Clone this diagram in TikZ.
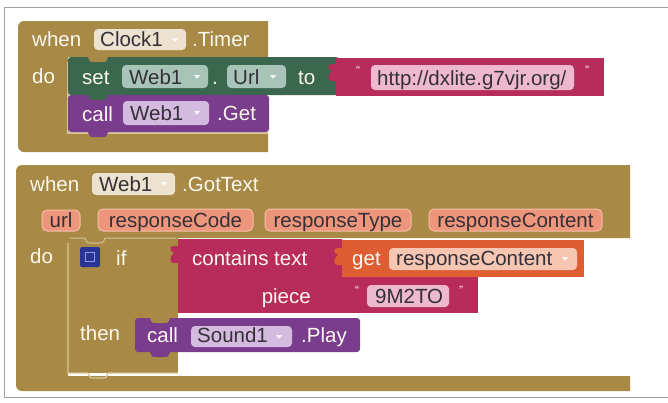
\documentclass[tikz,border=0pt]{standalone}
\usepackage{fontspec}
\setmainfont{Liberation Sans}

% block palette
\definecolor{ochre}{RGB}{168,138,70}
\definecolor{ochreedge}{RGB}{214,196,150}
\definecolor{beige}{RGB}{236,226,207}
\definecolor{setgreen}{RGB}{60,103,79}
\definecolor{greenfld}{RGB}{168,196,184}
\definecolor{textpink}{RGB}{184,44,92}
\definecolor{pinkfld}{RGB}{238,184,206}
\definecolor{callpurple}{RGB}{122,60,140}
\definecolor{purplefld}{RGB}{212,186,222}
\definecolor{getorange}{RGB}{222,94,50}
\definecolor{orangefld}{RGB}{246,198,178}
\definecolor{pill}{RGB}{238,150,124}
\definecolor{pilledge}{RGB}{246,190,170}
\definecolor{mutblue}{RGB}{40,52,150}
\definecolor{mutinner}{RGB}{140,158,225}
\definecolor{kwtext}{RGB}{250,248,238}
\definecolor{fldtext}{RGB}{52,48,56}
\definecolor{framegray}{RGB}{160,160,160}

\tikzset{
  every node/.style={font=\fontsize{20.5}{24}\selectfont, inner sep=0pt},
  kw/.style={anchor=base west, text=kwtext},
  kwr/.style={anchor=base east, text=kwtext},
  fld/.style={anchor=base west, text=fldtext},
  fldc/.style={anchor=base, text=fldtext},
  qmark/.style={anchor=center, text=kwtext, font=\fontsize{12}{12}\selectfont},
}

% rounded field box: x1,y1,x2,y2,colour
\newcommand\fieldbox[5]{\fill[#5, rounded corners=4] (#1,#2) rectangle (#3,#4);}
% small dropdown triangle centred at x,y
\newcommand\dropmark[2]{\fill[white, opacity=0.85] (#1-3,#2-1.8) -- (#1+3,#2-1.8) -- (#1,#2+1.8) -- cycle;}
% statement tab hanging below a block edge: left x, edge y, colour
\newcommand\stmttab[3]{\fill[#3] (#1,#2-1) -- (#1,#2) .. controls (#1+2,#2+5) .. (#1+6,#2+5) -- (#1+14,#2+5) .. controls (#1+18,#2+5) .. (#1+20,#2) -- (#1+20,#2-1) -- cycle;}
% value plug on the left of a block: right x, top y, colour
\newcommand\plug[3]{\fill[#3] (#1+1,#2) -- (#1-4,#2) .. controls (#1-8,#2+1) .. (#1-7,#2+5) -- (#1-4,#2+7) -- (#1-7,#2+10) .. controls (#1-8,#2+16) .. (#1-4,#2+17) -- (#1+1,#2+17) -- cycle;}

\begin{document}
\begin{tikzpicture}[x=1pt,y=-1pt]
\useasboundingbox (0,0) rectangle (668,402);
\fill[white] (0,0) rectangle (668,402);
\draw[framegray, line width=1] (670,7.5) -- (4.5,7.5) -- (4.5,397) -- (670,397);

%% ---------------- when Clock1.Timer ----------------
\fill[ochre] (268,21) -- (268,57) -- (68,57) -- (68,133) -- (268,133) -- (268,152)
  [rounded corners=6] -- (18,152) -- (18,21) [sharp corners] -- cycle;
\draw[ochreedge, line width=1.4] (68,62) -- (68,133) -- (268,133);

% set Web1.Url to
\fill[setgreen, rounded corners=3] (68,57) rectangle (339,95);
\stmttab{88}{57}{ochre}
% call Web1.Get
\fill[callpurple, rounded corners=3] (68,95) rectangle (269,132);
\stmttab{88}{95}{setgreen}
\stmttab{88}{132}{callpurple}

% text literal
\fill[textpink] (336,58) rectangle (604,96);
\plug{336}{64}{textpink}

\node[kw] (w1) at (32,46) {when};
\fieldbox{94}{29}{186}{50}{beige}
\node[fld] (clk) at (100,46) {Clock1};
\dropmark{175}{40}
\node[kw] (tmr) at (192,46) {.Timer};

\node[kw] (do1) at (32,83) {do};
\node[kw] (set) at (82,84) {set};
\fieldbox{122}{65}{208}{88}{greenfld}
\node[fld] (sweb) at (129,84) {Web1};
\dropmark{197}{77}
\node[kw] (dot) at (212,84) {.};
\fieldbox{227}{65}{286}{88}{greenfld}
\node[fld] (url) at (233,84) {Url};
\dropmark{273}{77}
\node[kw] (to) at (298,84) {to};

\node[qmark] (q1) at (358,70) {“};
\fieldbox{371}{65}{574}{90}{pinkfld}
\node[fld] (addr) at (377,85) {http://dxlite.g7vjr.org/};
\node[qmark] (q2) at (587,70) {”};

\node[kw] (call1) at (82,121) {call};
\fieldbox{123}{101}{209}{125}{purplefld}
\node[fld] (gweb) at (130,120) {Web1};
\dropmark{197}{113}
\node[kw] (get1) at (217,120) {.Get};

%% ---------------- when Web1.GotText ----------------
\fill[ochre] (630,165) -- (630,238) -- (68,238) -- (68,376) -- (630,376) -- (630,391)
  [rounded corners=6] -- (16,391) -- (16,165) [sharp corners] -- cycle;

% if / then
\fill[ochre] (68,238) rectangle (178,373);
\draw[ochreedge, line width=1.3] (68,243) -- (68,373) -- (88,373)
  .. controls (90,378) .. (94,378) -- (102,378) .. controls (106,378) .. (108,373) -- (178,373);
\draw[ochreedge, line width=1] (70,238) -- (85,238) .. controls (87,243) .. (91,243)
  -- (99,243) .. controls (103,243) .. (105,238) -- (176,238);

% contains text / piece
\fill[textpink] (178,239) rectangle (342,313);
\plug{178}{246}{textpink}
% get responseContent
\fill[getorange] (342,240) rectangle (584,277);
\plug{342}{248}{getorange}
% text literal 9M2TO
\fill[textpink] (342,277) rectangle (478,313);
\plug{342}{285}{textpink}

% call Sound1.Play
\fill[callpurple, rounded corners=3] (135,318) rectangle (360,352);
\stmttab{150}{318}{ochre}
\stmttab{150}{352}{callpurple}

\node[kw] (w2) at (30,191) {when};
\fieldbox{92}{173}{175}{195}{beige}
\node[fld] (hweb) at (99,191) {Web1};
\dropmark{164}{184}
\node[kw] (gt) at (182,191) {.GotText};

% event parameters
\fill[pill, draw=pilledge, line width=1, rounded corners=5] (42,210) rectangle (80,231);
\node[fldc] (p1) at (61,227) {url};
\fill[pill, draw=pilledge, line width=1, rounded corners=5] (98,209) rectangle (253,231);
\node[fldc] (p2) at (175.5,227) {responseCode};
\fill[pill, draw=pilledge, line width=1, rounded corners=5] (265,209) rectangle (411,231);
\node[fldc] (p3) at (338,227) {responseType};
\fill[pill, draw=pilledge, line width=1, rounded corners=5] (429,209) rectangle (602,231);
\node[fldc] (p4) at (515.5,227) {responseContent};

\node[kw] (do2) at (30,263) {do};
\fill[mutblue, rounded corners=2] (80,247) rectangle (100,267);
\draw[mutinner, line width=1] (85.5,252.5) rectangle (94.5,261.5);
\node[kw] (if) at (116,265) {if};

\node[kw] (cont) at (192,265) {contains text};
\node[kwr] (piece) at (311,303) {piece};

\node[kw] (get2) at (352,265) {get};
\fieldbox{389}{248}{577}{270}{orangefld}
\node[fld] (rc) at (396,265) {responseContent};
\dropmark{565}{259}

\node[qmark] (q3) at (357,290) {“};
\fieldbox{367}{285}{449}{307}{pinkfld}
\node[fld] (code) at (375,303) {9M2TO};
\node[qmark] (q4) at (461,290) {”};

\node[kw] (then) at (80,340) {then};
\node[kw] (call2) at (147,342) {call};
\fieldbox{191}{326}{292}{347}{purplefld}
\node[fld] (snd) at (197,342) {Sound1};
\dropmark{279}{337}
\node[kw] (play) at (301,342) {.Play};
\end{tikzpicture}
\end{document}
